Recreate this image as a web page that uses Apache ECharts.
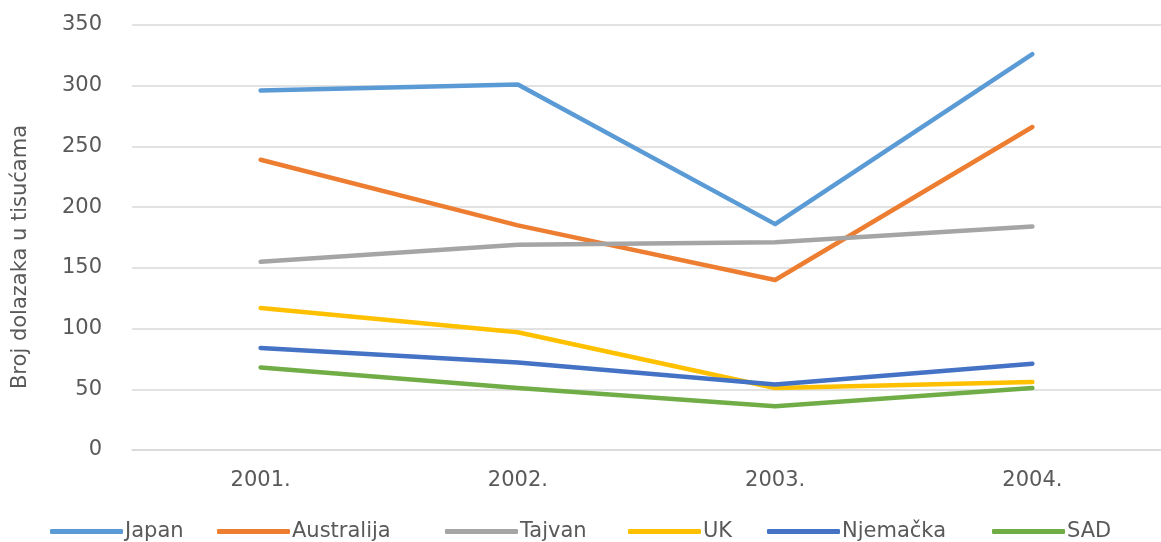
<!DOCTYPE html>
<html><head><meta charset="utf-8">
<script src="https://cdn.jsdelivr.net/npm/echarts@6/dist/echarts.min.js"></script>
<style>html,body{margin:0;padding:0;background:#fff}#c{width:1161px;height:542px}</style>
</head><body><div id="c"></div>
<script>
const categories = ['2001.', '2002.', '2003.', '2004.'];
const seriesNames = ['Japan', 'Australija', 'Tajvan', 'UK', 'Njemačka', 'SAD'];
const japan = [296, 301, 186, 326];
const australija = [239, 185, 140, 266];
const tajvan = [155, 169, 171, 184];
const uk = [117, 97, 51, 56];
const njemacka = [84, 72, 54, 71];
const sad = [68, 51, 36, 51];
const colors = ['#5B9BD5', '#ED7D31', '#A5A5A5', '#FFC000', '#4472C4', '#70AD47'];
const yTicks = [0, 50, 100, 150, 200, 250, 300, 350];
const yTitle = 'Broj dolazaka u tisućama';

const values = [japan, australija, tajvan, uk, njemacka, sad];
const legendLefts = [50, 217, 445, 628, 767, 992];
const font = '"DejaVu Sans", Verdana, sans-serif';
const chart = echarts.init(document.getElementById('c'));
chart.setOption({
  animation: false,
  color: colors,
  textStyle: { fontFamily: font, color: '#595959' },
  grid: { left: 132, width: 1032, top: 25, bottom: 92, containLabel: false },
  legend: seriesNames.map((n, i) => ({
    top: 521, left: legendLefts[i], itemWidth: 73, itemHeight: 5,
    icon: 'roundRect', padding: 0,
    textStyle: { fontSize: 21, color: '#595959', fontFamily: font, padding: [0, 0, 0, -3] },
    data: [n]
  })),
  xAxis: {
    type: 'category', data: categories, boundaryGap: true,
    axisLine: { show: true, lineStyle: { color: '#D9D9D9', width: 1.5 } },
    axisTick: { show: false },
    axisLabel: { fontSize: 21, color: '#595959', margin: 20 }
  },
  yAxis: {
    type: 'value', min: yTicks[0], max: yTicks[yTicks.length - 1], interval: 50,
    axisLine: { show: false }, axisTick: { show: false },
    axisLabel: { fontSize: 21, color: '#595959', margin: 30 },
    splitLine: { lineStyle: { color: '#D9D9D9', width: 1.5 } }
  },
  graphic: [{
    type: 'text', x: 21, y: 257, rotation: Math.PI / 2,
    style: { text: yTitle, font: '21px ' + font, fill: '#595959', align: 'center', verticalAlign: 'middle' }
  }],
  series: seriesNames.map((n, i) => ({
    name: n, type: 'line', data: values[i], symbol: 'none',
    lineStyle: { width: 4.5, cap: 'round', join: 'round' }
  }))
});
</script></body></html>
